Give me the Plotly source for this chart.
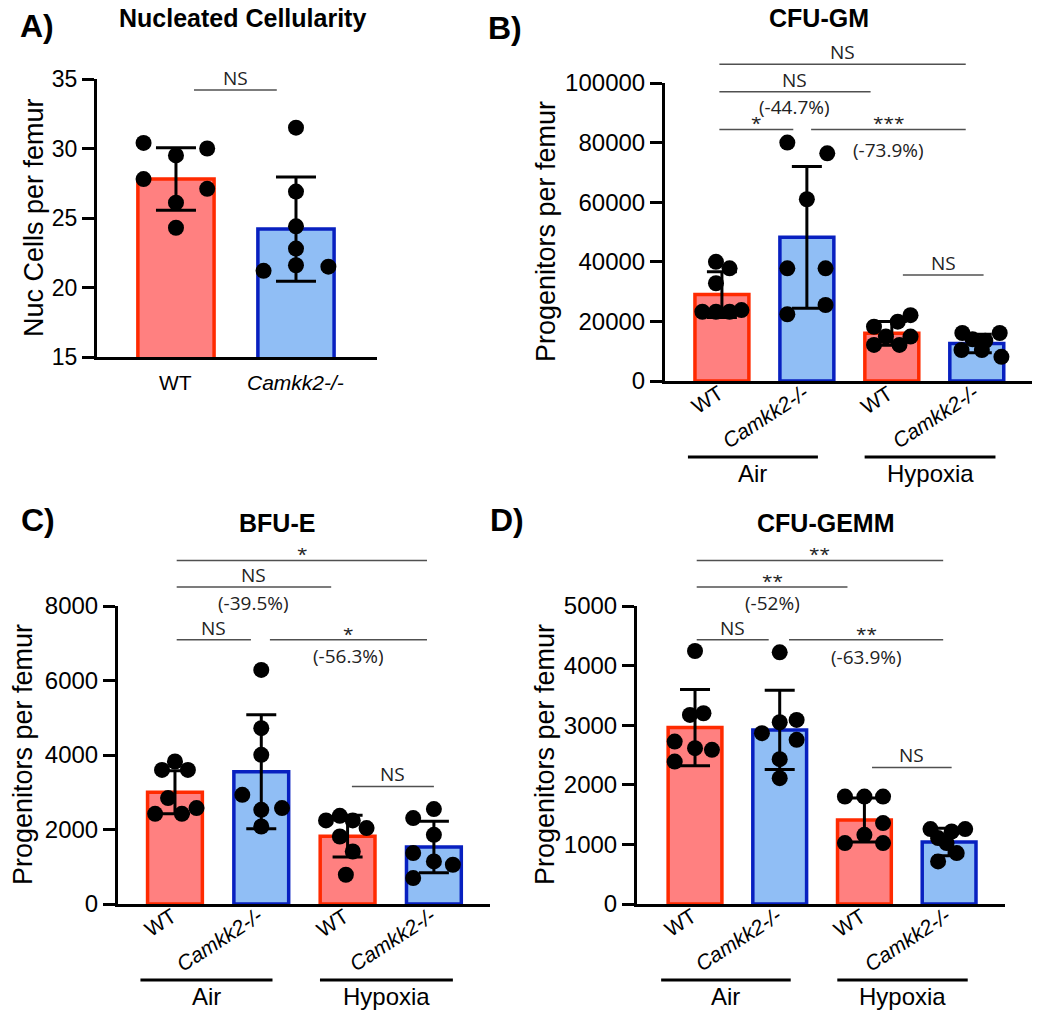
import plotly.graph_objects as go

W, H = 1050, 1015

# ---------------- data ----------------
groups_A = ["WT", "<i>Camkk2-/-</i>"]
groups_4 = ["WT", "<i>Camkk2-/-</i>", "WT", "<i>Camkk2-/-</i>"]
conditions = ["Air", "Hypoxia"]

titles = ["Nucleated Cellularity", "CFU-GM", "BFU-E", "CFU-GEMM"]
ytitles = ["Nuc Cells per femur", "Progenitors per femur", "Progenitors per femur", "Progenitors per femur"]
letters = ["A)", "B)", "C)", "D)"]

# Panel A
a_mean = [27.8, 24.2]
a_sd = [2.25, 3.75]
a_pts = [[30.4, 30.0, 29.5, 27.8, 27.1, 26.1, 24.3],
         [31.5, 26.9, 24.4, 22.8, 21.2, 21.6, 21.5]]
a_ticks = [15, 20, 25, 30, 35]

# Panel B (CFU-GM)
b_mean = [29000, 48200, 16000, 12600]
b_sd = [7700, 23800, 4000, 3100]
b_pts = [[40000, 37800, 32800, 23250, 23250, 23250, 23800],
         [80000, 76400, 61000, 37800, 37800, 25500, 22400],
         [18200, 19900, 22100, 12100, 14900, 12100, 14900],
         [16100, 16100, 14000, 13500, 10400, 10400, 8100]]
b_ticks = [0, 20000, 40000, 60000, 80000, 100000]

# Panel C (BFU-E)
c_mean = [3000, 3550, 1820, 1530]
c_sd = [580, 1530, 560, 690]
c_pts = [[3825, 3600, 3600, 2843, 2420, 2420, 2575],
         [6283, 4720, 4004, 2931, 2575, 2529, 2081],
         [2368, 2243, 2243, 2038, 1813, 1410, 786],
         [2547, 2306, 1858, 1367, 1143, 1054, 697]]
c_ticks = [0, 2000, 4000, 6000, 8000]

# Panel D (CFU-GEMM)
d_mean = [2960, 2920, 1410, 1040]
d_sd = [640, 665, 370, 230]
d_pts = [[4245, 3172, 3200, 2725, 2614, 2586, 2390],
         [4223, 3050, 3089, 2866, 2754, 2430, 2111],
         [1803, 1803, 1803, 1357, 1161, 1022, 1022],
         [1257, 1257, 1217, 1106, 1022, 855, 714]]
d_ticks = [0, 1000, 2000, 3000, 4000, 5000]

# significance labels (text)
a_sig = ["NS"]
a_pct = [None]
b_sig = ["NS", "NS", "*", "***", "NS"]
b_pct = [None, "(-44.7%)", None, "(-73.9%)", None]
c_sig = ["*", "NS", "NS", "*", "NS"]
c_pct = [None, "(-39.5%)", None, "(-56.3%)", None]
d_sig = ["**", "**", "NS", "**", "NS"]
d_pct = [None, "(-52%)", None, "(-63.9%)", None]

# ---------------- layout / positions (not data) ----------------
a_jit = [[-0.27, 0.26, 0, -0.27, 0.26, 0, 0],
         [0, 0, 0, 0, -0.27, 0, 0.27]]
b_jit = [[-0.07, 0.09, -0.07, -0.23, -0.07, 0.09, 0.23],
         [-0.23, 0.24, 0, -0.23, 0.22, 0.22, -0.23],
         [-0.21, 0.07, 0.22, -0.21, -0.07, 0.09, 0.22],
         [-0.17, 0.27, -0.05, 0.1, -0.18, 0.06, 0.29]]
c_jit = [[0, -0.15, 0.15, -0.08, -0.23, 0.08, 0.25],
         [0, 0, 0, -0.22, 0.24, 0, 0],
         [-0.09, -0.25, 0.06, 0.22, -0.09, 0.06, -0.02],
         [0, -0.24, 0, -0.24, 0, 0.22, -0.24]]
d_jit = [[0, -0.06, 0.1, -0.24, 0, 0.2, -0.24],
         [0, 0, 0.2, -0.21, 0.2, 0, 0],
         [-0.23, 0, 0.22, 0.22, 0, -0.23, 0.22],
         [-0.22, 0.19, 0.03, -0.13, -0.03, 0.09, -0.13]]

# bracket geometry: (x start, x end, height in data units)
a_br = [(0.15, 0.84, 34.2)]
b_br = [(-0.03, 2.87, 106300), (-0.03, 1.75, 97100), (-0.03, 0.84, 84400),
        (1.05, 2.87, 84400), (2.13, 3.08, 35600)]
b_pct_dy = [0, 15, 0, 21, 0]
c_br = [(0.02, 2.92, 9224), (0.02, 1.81, 8510), (0.02, 0.88, 7095),
        (1.10, 2.92, 7095), (2.05, 3.00, 3157)]
c_pct_dy = [0, 16, 0, 16, 0]
d_br = [(0.02, 2.93, 5765), (0.02, 1.80, 5319), (0.02, 0.87, 4434),
        (1.11, 2.93, 4434), (2.09, 3.03, 2292)]
d_pct_dy = [0, 16, 0, 17, 0]

geo = {
    "A": dict(sfx="", x0=97, x1=377, yt=79, yb=357, xr=[-0.658, 1.675], yr=[15, 35]),
    "B": dict(sfx="2", x0=665, x1=1032, yt=83, yb=381, xr=[-0.67, 3.65], yr=[0, 100000]),
    "C": dict(sfx="3", x0=118, x1=490, yt=606, yb=904, xr=[-0.66, 3.65], yr=[0, 8000]),
    "D": dict(sfx="4", x0=637, x1=1005, yt=606, yb=904, xr=[-0.685, 3.66], yr=[0, 5000]),
}

WT_FILL, WT_LINE = "#FF8080", "#FF2A00"
KO_FILL, KO_LINE = "#90BEF5", "#0820C0"
ARIAL = "Liberation Sans, Arial, sans-serif"
SIGF = "Open Sans, sans-serif"


def xp(px):
    return px / W


def yp(py):
    return 1 - py / H


def val_py(g, v):
    return g["yb"] - (v - g["yr"][0]) / (g["yr"][1] - g["yr"][0]) * (g["yb"] - g["yt"])


fig = go.Figure()
shapes = []
annotations = []


def add_panel(key, means, sds, pts, jit, ticktext, yticks, sig, pct, br, pct_dy,
              cap, rotated, ytick_size):
    g = geo[key]
    xa, ya = "x" + g["sfx"], "y" + g["sfx"]
    n = len(means)
    xs = list(range(n))
    fills = [WT_FILL if i % 2 == 0 else KO_FILL for i in xs]
    lines = [WT_LINE if i % 2 == 0 else KO_LINE for i in xs]
    fig.add_trace(go.Bar(x=xs, y=means, width=0.635, xaxis=xa, yaxis=ya,
                         marker=dict(color=fills, line=dict(color=lines, width=3.5)),
                         showlegend=False, hoverinfo="skip"))
    fig.add_trace(go.Scatter(x=xs, y=means, xaxis=xa, yaxis=ya, mode="markers",
                             marker=dict(size=1, color="rgba(0,0,0,0)"),
                             error_y=dict(type="data", array=sds, visible=True,
                                          color="black", thickness=3, width=cap),
                             showlegend=False, hoverinfo="skip"))
    px_, py_ = [], []
    for i in xs:
        for v, j in zip(pts[i], jit[i]):
            px_.append(i + j)
            py_.append(v)
    fig.add_trace(go.Scatter(x=px_, y=py_, xaxis=xa, yaxis=ya, mode="markers",
                             marker=dict(size=16, color="black"),
                             showlegend=False, hoverinfo="skip"))

    axis_common = dict(showgrid=False, zeroline=False, showline=True, linewidth=3,
                       linecolor="black", automargin=False, fixedrange=True)
    fig.update_layout(**{
        ("xaxis" + g["sfx"]): dict(axis_common, domain=[xp(g["x0"]), xp(g["x1"])],
                                   range=g["xr"], anchor=ya, showticklabels=False, ticks=""),
        ("yaxis" + g["sfx"]): dict(axis_common, domain=[yp(g["yb"]), yp(g["yt"])],
                                   range=g["yr"], anchor=xa, tickvals=yticks, tickformat="d",
                                   ticks="outside", ticklen=12, tickwidth=3, tickcolor="black",
                                   tickfont=dict(family=ARIAL, size=ytick_size, color="black")),
    })

    # category labels
    for i, t in zip(xs, ticktext):
        if rotated:
            annotations.append(dict(xref=xa, yref="paper", x=i, xshift=8, y=yp(g["yb"] - 3),
                                    text=t, showarrow=False, xanchor="right", yanchor="top",
                                    textangle=-33,
                                    font=dict(family=ARIAL, size=21, color="black")))
        else:
            annotations.append(dict(xref=xa, yref="paper", x=i, y=yp(g["yb"] + 25),
                                    text=t, showarrow=False, xanchor="center", yanchor="middle",
                                    font=dict(family=ARIAL, size=21, color="black")))

    for (x0, x1, h), lab, pl, dy in zip(br, sig, pct, pct_dy):
        ly = val_py(g, h)
        shapes.append(dict(type="line", xref=xa, yref="paper", x0=x0, x1=x1,
                           y0=yp(ly), y1=yp(ly), line=dict(color="#505050", width=1.5)))
        star = "*" in lab
        annotations.append(dict(xref=xa, yref="paper", x=(x0 + x1) / 2,
                                y=yp(ly - (10 if star else 12)),
                                text=lab, showarrow=False, xanchor="center", yanchor="middle",
                                height=12 if star else 20, yshift=-4 if star else 0,
                                borderpad=0,
                                font=dict(family=SIGF, size=19, color="#222")))
        if pl:
            annotations.append(dict(xref=xa, yref="paper", x=(x0 + x1) / 2, y=yp(ly + dy),
                                    text=pl, showarrow=False, xanchor="center", yanchor="middle",
                                    height=20, borderpad=0,
                                    font=dict(family=SIGF, size=19, color="#222")))

    if n == 4:
        gy = g["yb"] + 76
        for k, (s, e) in enumerate([(-0.4, 1.13), (1.68, 3.22)]):
            shapes.append(dict(type="line", xref=xa, yref="paper", x0=s, x1=e,
                               y0=yp(gy), y1=yp(gy), line=dict(color="black", width=3)))
            annotations.append(dict(xref=xa, yref="paper", x=(s + e) / 2, y=yp(gy + 16),
                                    text=conditions[k], showarrow=False, xanchor="center",
                                    yanchor="middle",
                                    font=dict(family=ARIAL, size=24, color="black")))


add_panel("A", a_mean, a_sd, a_pts, a_jit, groups_A, a_ticks, a_sig, a_pct, a_br, [0],
          20, False, 23)
add_panel("B", b_mean, b_sd, b_pts, b_jit, groups_4, b_ticks, b_sig, b_pct, b_br, b_pct_dy,
          15, True, 24)
add_panel("C", c_mean, c_sd, c_pts, c_jit, groups_4, c_ticks, c_sig, c_pct, c_br, c_pct_dy,
          15, True, 24)
add_panel("D", d_mean, d_sd, d_pts, d_jit, groups_4, d_ticks, d_sig, d_pct, d_br, d_pct_dy,
          15, True, 24)

# titles, letters, y-axis titles
title_pos = [(242, 18), (819, 18), (277, 523), (825, 523)]
letter_pos = [(37, 26), (505, 28), (38, 520), (507, 520)]
ytitle_pos = [(34, 218), (546, 232), (23, 755), (545, 755)]
for t, (x, y) in zip(titles, title_pos):
    annotations.append(dict(xref="paper", yref="paper", x=xp(x), y=yp(y), text="<b>" + t + "</b>",
                            showarrow=False, xanchor="center", yanchor="middle",
                            font=dict(family=ARIAL, size=25, color="black")))
for t, (x, y) in zip(letters, letter_pos):
    annotations.append(dict(xref="paper", yref="paper", x=xp(x), y=yp(y), text="<b>" + t + "</b>",
                            showarrow=False, xanchor="center", yanchor="middle",
                            font=dict(family=ARIAL, size=32, color="black")))
for t, (x, y) in zip(ytitles, ytitle_pos):
    annotations.append(dict(xref="paper", yref="paper", x=xp(x), y=yp(y), text=t,
                            showarrow=False, xanchor="center", yanchor="middle", textangle=-90,
                            font=dict(family=ARIAL, size=27, color="black")))

fig.update_layout(template="none", width=W, height=H, margin=dict(l=0, r=0, t=0, b=0, pad=0),
                  paper_bgcolor="white", plot_bgcolor="white",
                  shapes=shapes, annotations=annotations, bargap=0)

fig.write_html("out.html", config={"displayModeBar": False, "staticPlot": True},
               post_script="document.body.style.margin='0';document.body.style.padding='0';")
